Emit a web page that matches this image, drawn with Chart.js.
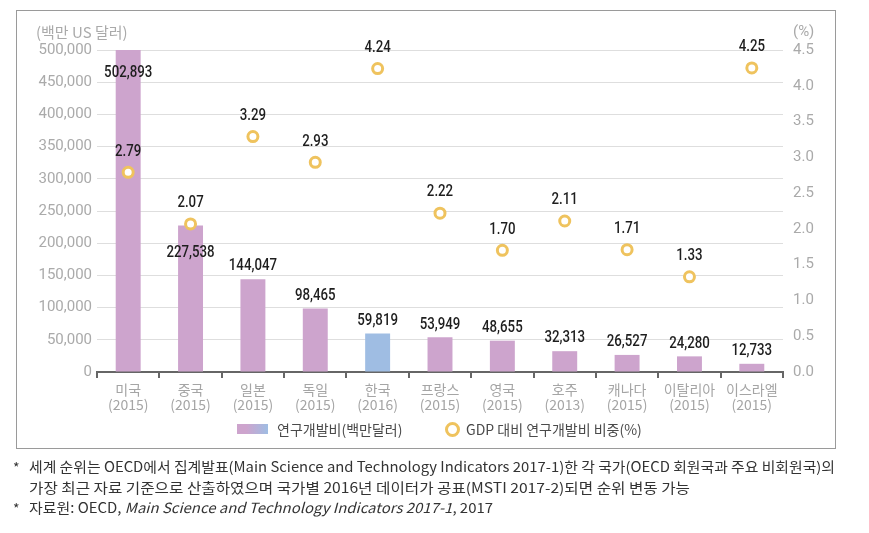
<!DOCTYPE html>
<html>
<head>
<meta charset="utf-8">
<script src="https://cdn.jsdelivr.net/npm/chart.js@4.4.0/dist/chart.umd.min.js"></script>
<style>
  html, body { margin: 0; padding: 0; background: #fff; }
  body { width: 869px; height: 533px; position: relative; overflow: hidden; font-family: "Noto Sans CJK KR", sans-serif; }
  #box { position: absolute; left: 16px; top: 10px; width: 818px; height: 437px; border: 1px solid #9a9a9a; }
  #c { position: absolute; left: 0; top: 0; }
  .t { position: absolute; white-space: nowrap; color: #aaa; font-size: 15px; line-height: 15px; font-family: "Noto Sans CJK KR", sans-serif; }
  .leg { position: absolute; white-space: nowrap; color: #4a4a4a; font-size: 14px; line-height: 14px; font-family: "Noto Sans CJK KR", sans-serif; }
  .fn { position: absolute; white-space: nowrap; color: #333; font-size: 14px; line-height: 14px; font-family: "Noto Sans CJK KR", sans-serif; transform-origin: 0 50%; }
  .ast { position: absolute; color: #333; font-size: 14px; line-height: 14px; }
</style>
</head>
<body>
<div id="box"></div>
<canvas id="c" width="869" height="533"></canvas>
<div class="t" id="ttl" style="left:36px; top:24px;">(백만 US 달러)</div>
<div class="t" style="left:793px; top:24px; font-family: Roboto, sans-serif;">(%)</div>

<div style="position:absolute; left:237px; top:424px; width:31px; height:10px; background: linear-gradient(90deg, #cda4cd 0%, #cda4cd 30%, #9fbde3 100%);"></div>
<div class="leg" id="leg1" style="left:277px; top:422px;">연구개발비(백만달러)</div>
<div style="position:absolute; left:445px; top:422px; width:9px; height:9px; border:3px solid #efc35e; border-radius:50%; background:#fff;"></div>
<div class="leg" id="leg2" style="left:466px; top:422px;">GDP 대비 연구개발비 비중(%)</div>

<div class="ast" style="left:13px; top:460px;">*</div>
<div class="fn" id="fn1" data-w="806" style="left:29px; top:459px;">세계 순위는 OECD에서 집계발표(Main Science and Technology Indicators 2017-1)한 각 국가(OECD 회원국과 주요 비회원국)의</div>
<div class="fn" id="fn2" data-w="661" style="left:29px; top:480px;">가장 최근 자료 기준으로 산출하였으며 국가별 2016년 데이터가 공표(MSTI 2017-2)되면 순위 변동 가능</div>
<div class="ast" style="left:13px; top:501px;">*</div>
<div class="fn" id="fn3" data-w="464" style="left:29px; top:500px;">자료원: OECD, <i>Main Science and Technology Indicators 2017-1</i>, 2017</div>

<script>
// ---- data ----
const countries = ['미국','중국','일본','독일','한국','프랑스','영국','호주','캐나다','이탈리아','이스라엘'];
const years = ['(2015)','(2015)','(2015)','(2015)','(2016)','(2015)','(2015)','(2013)','(2015)','(2015)','(2015)'];
const rdSpend = [502893, 227538, 144047, 98465, 59819, 53949, 48655, 32313, 26527, 24280, 12733];
const gdpRatio = [2.79, 2.07, 3.29, 2.93, 4.24, 2.22, 1.70, 2.11, 1.71, 1.33, 4.25];
const leftTicks = [0, 50000, 100000, 150000, 200000, 250000, 300000, 350000, 400000, 450000, 500000];
const rightTicks = [0.0, 0.5, 1.0, 1.5, 2.0, 2.5, 3.0, 3.5, 4.0, 4.5];
const highlightCountry = '한국';
const labelsInsideBar = ['미국', '중국'];

const pink = '#cda4cd';
const blue = '#9fbde3';
const ring = '#efc35e';

const fmt = v => v.toLocaleString('en-US');

const labelPlugin = {
  id: 'valueLabels',
  afterDatasetsDraw(chart) {
    const ctx = chart.ctx;
    ctx.save();
    ctx.fillStyle = '#1e1e1e';
    ctx.textAlign = 'center';
    ctx.textBaseline = 'middle';
    ctx.font = '500 17px Roboto';
    const drawText = (t, x, y) => {
      ctx.save();
      ctx.translate(x, y);
      ctx.scale(0.78, 1);
      ctx.fillText(t, 0, 0);
      ctx.restore();
    };
    const barMeta = chart.getDatasetMeta(1);
    barMeta.data.forEach((el, i) => {
      const inside = labelsInsideBar.includes(countries[i]);
      const top = Math.max(el.y, chart.chartArea.top);
      const y = inside ? top + (i === 0 ? 23 : 27) : top - 13;
      drawText(fmt(rdSpend[i]), el.x, y);
    });
    const ptMeta = chart.getDatasetMeta(0);
    ptMeta.data.forEach((el, i) => {
      drawText(gdpRatio[i].toFixed(2), el.x, el.y - 21);
    });
    ctx.restore();
  }
};

new Chart(document.getElementById('c'), {
  data: {
    labels: countries.map((c, i) => [c, years[i]]),
    datasets: [
      {
        type: 'line',
        label: 'GDP 대비 연구개발비 비중(%)',
        data: gdpRatio,
        yAxisID: 'y1',
        showLine: false,
        pointRadius: 5,
        pointBorderWidth: 3,
        pointBorderColor: ring,
        pointBackgroundColor: '#fff',
        pointHoverRadius: 5
      },
      {
        type: 'bar',
        label: '연구개발비(백만달러)',
        data: rdSpend,
        yAxisID: 'y',
        backgroundColor: countries.map(c => c === highlightCountry ? blue : pink),
        barPercentage: 0.4,
        categoryPercentage: 1.0
      }
    ]
  },
  options: {
    responsive: false,
    animation: false,
    events: [],
    layout: { padding: { left: 0, right: 0, top: 50, bottom: 111 } },
    plugins: { legend: { display: false }, tooltip: { enabled: false } },
    scales: {
      x: {
        grid: { offset: true, drawOnChartArea: false, drawTicks: true, tickLength: 6, color: '#666', lineWidth: 2 },
        border: { display: true, color: '#666', width: 2 },
        ticks: {
          color: '#a5a5a5',
          font: { family: '"Noto Sans CJK KR", sans-serif', size: 14, lineHeight: '15px' },
          padding: 4,
          maxRotation: 0,
          autoSkip: false
        },
        afterFit: s => { s.height = 50; }
      },
      y: {
        position: 'left',
        min: 0, max: leftTicks[leftTicks.length - 1],
        afterBuildTicks: s => { s.ticks = leftTicks.map(v => ({ value: v })); },
        ticks: { color: '#aaa', font: { family: 'Roboto', size: 15 }, padding: 5, callback: v => fmt(v) },
        grid: { color: '#dedede', lineWidth: 1, drawTicks: false },
        border: { display: false },
        afterFit: s => { s.width = 97; }
      },
      y1: {
        position: 'right',
        min: 0, max: rightTicks[rightTicks.length - 1],
        afterBuildTicks: s => { s.ticks = rightTicks.map(v => ({ value: v })); },
        ticks: { color: '#aaa', font: { family: 'Roboto', size: 15 }, padding: 10, callback: v => v.toFixed(1) },
        grid: { drawOnChartArea: false, drawTicks: false },
        border: { display: false },
        afterFit: s => { s.width = 86; }
      }
    }
  },
  plugins: [labelPlugin]
});

// fit footnote lines to their widths in the reference
document.querySelectorAll('.fn').forEach(el => {
  const w = el.getBoundingClientRect().width;
  const target = +el.dataset.w;
  el.style.transform = 'scaleX(' + (target / w).toFixed(4) + ')';
});
</script>
</body>
</html>
